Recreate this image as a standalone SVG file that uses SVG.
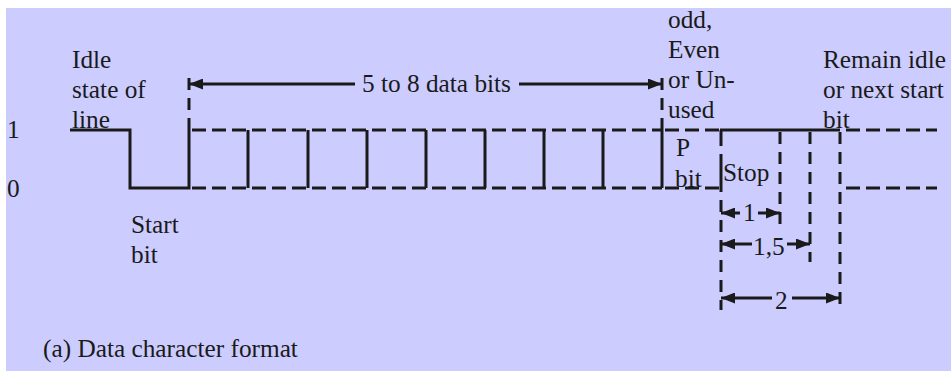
<svg xmlns="http://www.w3.org/2000/svg" width="951" height="371" viewBox="0 0 951 371">
  <defs>
    <marker id="ah" viewBox="0 0 14 11" refX="14" refY="5.5" markerWidth="14" markerHeight="11" markerUnits="userSpaceOnUse" orient="auto">
      <path d="M0,0 L14,5.5 L0,11 Z" fill="#1a1a1a"/>
    </marker>
    <style>
      text { font-family: "Liberation Serif", "Times New Roman", serif; font-size: 25.3px; fill: #1a1a1a; }
      .solid { stroke: #1a1a1a; stroke-width: 3; fill: none; }
      .dash { stroke: #1a1a1a; stroke-width: 3; fill: none; stroke-dasharray: 14 6; }
      .vdash { stroke: #1a1a1a; stroke-width: 3; fill: none; stroke-dasharray: 12 8; }
      .arr { stroke: #1a1a1a; stroke-width: 3; fill: none; marker-end: url(#ah); }
    </style>
  </defs>
  <rect x="0" y="0" width="951" height="371" fill="#ffffff"/>
  <rect x="6" y="8" width="945" height="363" fill="#ccccff"/>

  <g id="axis-labels">
    <text x="7" y="138">1</text>
    <text x="7" y="197">0</text>
  </g>

  <g id="waveform">
    <polyline class="solid" points="70,130 130,130 130,188 189,188 189,130"/>
    <line class="vdash" x1="189" y1="130" x2="189" y2="72"/>
    <line class="dash" x1="192" y1="130" x2="662" y2="130"/>
    <line class="dash" x1="192" y1="188" x2="662" y2="188"/>
    <line class="solid" x1="248" y1="130" x2="248" y2="188"/>
    <line class="solid" x1="308" y1="130" x2="308" y2="188"/>
    <line class="solid" x1="367" y1="130" x2="367" y2="188"/>
    <line class="solid" x1="426" y1="130" x2="426" y2="188"/>
    <line class="solid" x1="485" y1="130" x2="485" y2="188"/>
    <line class="solid" x1="544" y1="130" x2="544" y2="188"/>
    <line class="solid" x1="603" y1="130" x2="603" y2="188"/>
    <line class="solid" x1="662" y1="130" x2="662" y2="188"/>
    <line class="vdash" x1="662" y1="130" x2="662" y2="72"/>
    <line class="dash" x1="665" y1="130" x2="720" y2="130"/>
    <line class="dash" x1="665" y1="188" x2="720" y2="188"/>
    <line class="solid" x1="720" y1="130" x2="840" y2="130"/>
    <line class="solid" x1="721" y1="130" x2="721" y2="146"/>
    <line class="solid" x1="721" y1="154" x2="721" y2="192"/>
    <line class="vdash" x1="721" y1="200" x2="721" y2="310"/>
    <line class="vdash" x1="780" y1="132" x2="780" y2="226"/>
    <line class="vdash" x1="810" y1="132" x2="810" y2="262"/>
    <line class="vdash" x1="840" y1="132" x2="840" y2="310"/>
    <line class="dash" x1="846" y1="130" x2="937" y2="130"/>
    <line class="dash" x1="846" y1="188" x2="937" y2="188"/>
  </g>

  <g id="connectors">
    <line class="arr" x1="355" y1="84" x2="189" y2="84"/>
    <line class="arr" x1="519" y1="84" x2="662" y2="84"/>
    <line class="arr" x1="740" y1="213" x2="721" y2="213"/>
    <line class="arr" x1="758" y1="213" x2="780" y2="213"/>
    <line class="arr" x1="752" y1="244" x2="721" y2="244"/>
    <line class="arr" x1="787" y1="244" x2="810" y2="244"/>
    <line class="arr" x1="772" y1="298" x2="721" y2="298"/>
    <line class="arr" x1="792" y1="298" x2="840" y2="298"/>
  </g>

  <g id="idle-label">
    <text x="72" y="68">Idle</text>
    <text x="72" y="98">state of</text>
    <text x="72" y="128">line</text>
  </g>
  <g id="start-label">
    <text x="131" y="233">Start</text>
    <text x="131" y="263">bit</text>
  </g>
  <g id="data-bits-label">
    <text x="362" y="92">5 to 8 data bits</text>
  </g>
  <g id="parity-label">
    <text x="668" y="28">odd,</text>
    <text x="668" y="58">Even</text>
    <text x="668" y="88">or Un-</text>
    <text x="668" y="118">used</text>
  </g>
  <g id="p-bit-label">
    <text x="676" y="156">P</text>
    <text x="675" y="187">bit</text>
  </g>
  <g id="stop-label">
    <text x="723" y="181">Stop</text>
  </g>
  <g id="remain-label">
    <text x="823" y="68">Remain idle</text>
    <text x="823" y="98">or next start</text>
    <text x="823" y="128">bit</text>
  </g>
  <g id="stop-lengths">
    <text x="743" y="221">1</text>
    <text x="753" y="255">1,5</text>
    <text x="775" y="309">2</text>
  </g>
  <g id="caption">
    <text x="43" y="357">(a) Data character format</text>
  </g>
</svg>
